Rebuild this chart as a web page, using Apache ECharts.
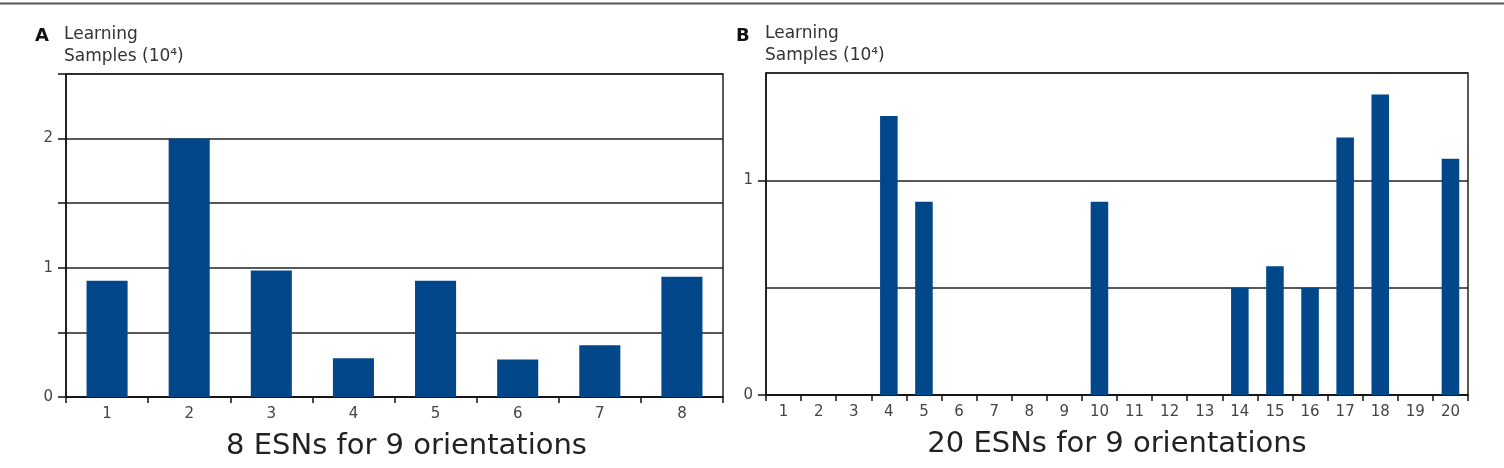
<!DOCTYPE html>
<html>
<head>
<meta charset="utf-8">
<script src="https://cdn.jsdelivr.net/npm/echarts@6/dist/echarts.min.js"></script>
<style>html,body{margin:0;padding:0;background:#fff}#c{width:1504px;height:468px}</style>
</head>
<body>
<div id="c"></div>
<script>
const catsA = ['1','2','3','4','5','6','7','8'];
const valuesA = [0.9, 2.0, 0.98, 0.3, 0.9, 0.29, 0.4, 0.93];
const catsB = ['1','2','3','4','5','6','7','8','9','10','11','12','13','14','15','16','17','18','19','20'];
const valuesB = [0, 0, 0, 1.3, 0.9, 0, 0, 0, 0, 0.9, 0, 0, 0, 0.5, 0.6, 0.5, 1.2, 1.4, 0, 1.1];
const yTicksA = [0, 0.5, 1, 1.5, 2, 2.5];
const yLabelsA = [0, 1, 2];
const yTicksB = [0, 1];
const yLabelsB = [0, 1];
const xNameA = '8 ESNs for 9 orientations';
const xNameB = '20 ESNs for 9 orientations';
const yName = 'Learning\nSamples (10⁴)';

const FONT = 'DejaVu Sans';
const BAR = '#02478a';
const txt = '#333';

function xAxis(idx, cats, name, shift) {
  return {
    type: 'category', gridIndex: idx, data: cats,
    boundaryGap: true,
    name: name, nameLocation: 'middle', nameGap: 35,
    nameTextStyle: { fontFamily: FONT, fontSize: 29, color: '#222', padding: [0, 0, 0, shift] },
    axisLine: { show: true, lineStyle: { color: '#111', width: 1.5 } },
    axisTick: { show: true, alignWithLabel: false, length: 6, lineStyle: { color: '#111', width: 1.5 } },
    axisLabel: { fontFamily: FONT, fontSize: 15, color: '#444', margin: 10 },
    splitLine: { show: false }
  };
}
function yAxis(idx, max, ticks, labels) {
  return {
    type: 'value', gridIndex: idx, min: 0, max: max, interval: 0.5,
    axisLine: { show: true, lineStyle: { color: '#111', width: 1.5 } },
    axisTick: { show: true, length: 8, customValues: ticks, lineStyle: { color: '#111', width: 1.5 } },
    axisLabel: { fontFamily: FONT, fontSize: 15, color: '#444', margin: 13, customValues: labels },
    splitLine: { show: false }
  };
}
function gridAxis(idx, max) {
  return {
    type: 'value', gridIndex: idx, min: 0, max: max, interval: 0.5, position: 'left',
    axisLine: { show: false }, axisTick: { show: false }, axisLabel: { show: false },
    splitLine: { show: true, lineStyle: { color: '#222', width: 1.5 } }
  };
}

const chart = echarts.init(document.getElementById('c'), null, { renderer: 'canvas' });
chart.setOption({
  animation: false,
  backgroundColor: '#fff',
  title: [
    { text: 'A', left: 35, top: 27, padding: 0, textStyle: { fontFamily: FONT, fontSize: 18, fontWeight: 'bold', color: '#111' } },
    { text: yName, left: 64, top: 24, padding: 0, textStyle: { fontFamily: FONT, fontSize: 17, fontWeight: 'normal', color: txt, lineHeight: 22 } },
    { text: 'B', left: 736, top: 27, padding: 0, textStyle: { fontFamily: FONT, fontSize: 18, fontWeight: 'bold', color: '#111' } },
    { text: yName, left: 765, top: 23, padding: 0, textStyle: { fontFamily: FONT, fontSize: 17, fontWeight: 'normal', color: txt, lineHeight: 22 } }
  ],
  graphic: [
    { type: 'line', shape: { x1: 0, y1: 3.5, x2: 1504, y2: 3.5 }, style: { stroke: '#555', lineWidth: 2 } },
    { type: 'rect', shape: { x: 66, y: 74, width: 657, height: 323 }, style: { fill: 'none', stroke: '#222', lineWidth: 1.5 }, z: 0 },
    { type: 'rect', shape: { x: 766, y: 73, width: 702, height: 322 }, style: { fill: 'none', stroke: '#222', lineWidth: 1.5 }, z: 0 }
  ],
  grid: [
    { left: 66, right: 781, top: 74, bottom: 71 },
    { left: 766, right: 36, top: 73, bottom: 73 }
  ],
  xAxis: [xAxis(0, catsA, xNameA, 24), xAxis(1, catsB, xNameB, 0)],
  yAxis: [
    yAxis(0, 2.5, yTicksA, yLabelsA),
    yAxis(1, 1.5, yTicksB, yLabelsB),
    gridAxis(0, 2.5),
    gridAxis(1, 1.5)
  ],
  series: [
    { type: 'bar', xAxisIndex: 0, yAxisIndex: 0, data: valuesA, barWidth: '50%', itemStyle: { color: BAR }, z: 3 },
    { type: 'bar', xAxisIndex: 1, yAxisIndex: 1, data: valuesB, barWidth: '50%', itemStyle: { color: BAR }, z: 3 }
  ]
});
</script>
</body>
</html>
